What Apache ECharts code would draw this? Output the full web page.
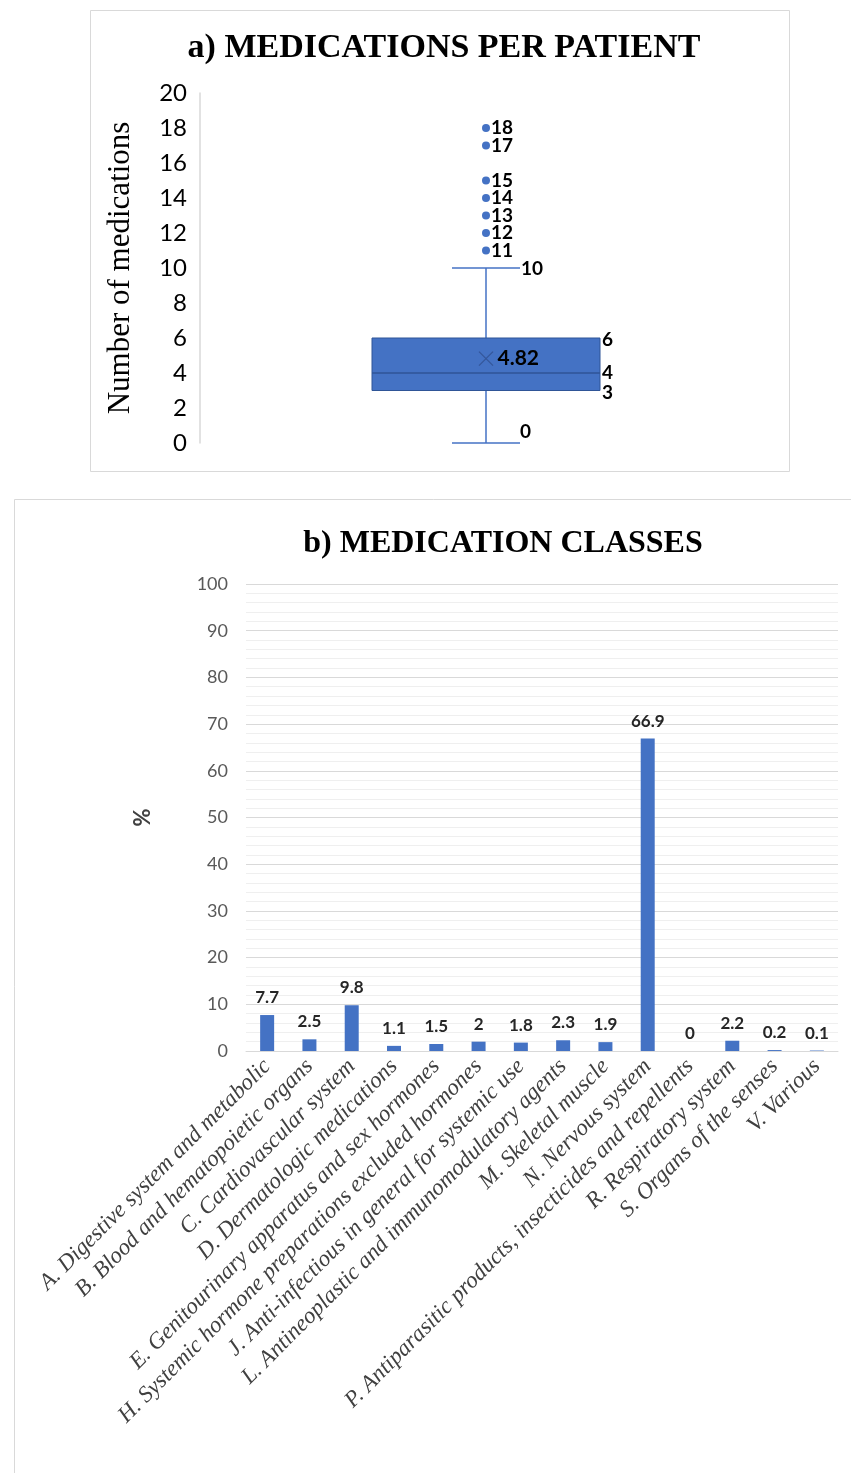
<!DOCTYPE html>
<html>
<head>
<meta charset="utf-8">
<script src="https://cdn.jsdelivr.net/npm/echarts@6/dist/echarts.min.js"></script>
<style>html,body{margin:0;padding:0;background:#fff;}#c{width:851px;height:1473px;}</style>
</head>
<body>
<div id="c"></div>
<script>
// ---- Data: a) medications per patient ----
const boxStats = [0, 3, 4, 6, 10];          // min, Q1, median, Q3, max (whisker)
const outliers = [11, 12, 13, 14, 15, 17, 18];
const meanValue = 4.82;
const yTicksTop = [0, 2, 4, 6, 8, 10, 12, 14, 16, 18, 20];

// ---- Data: b) medication classes ----
const classes = [
  'A. Digestive system and metabolic',
  'B. Blood and hematopoietic organs',
  'C. Cardiovascular system',
  'D. Dermatologic medications',
  'E. Genitourinary apparatus and sex hormones',
  'H. Systemic hormone preparations excluded hormones',
  'J. Anti-infectious in general for systemic use',
  'L. Antineoplastic and immunomodulatory agents',
  'M. Skeletal muscle',
  'N. Nervous system',
  'P. Antiparasitic products, insecticides and repellents',
  'R. Respiratory system',
  'S. Organs of the senses',
  'V. Various'
];
const classPct = [7.7, 2.5, 9.8, 1.1, 1.5, 2, 1.8, 2.3, 1.9, 66.9, 0, 2.2, 0.2, 0.1];

const BLUE = '#4472C4';
const DARK = '#2F5597';
const SANS = 'Lato, "Open Sans", sans-serif';
const SERIF = '"Liberation Serif", "DejaVu Serif", serif';

const chart = echarts.init(document.getElementById('c'), null, {renderer: 'canvas'});

function renderBox(params, api) {
  const x = 0;
  const vMin = api.value(1), q1 = api.value(2), med = api.value(3), q3 = api.value(4), vMax = api.value(5);
  const pMin = api.coord([x, vMin]), pQ1 = api.coord([x, q1]), pMed = api.coord([x, med]);
  const pQ3 = api.coord([x, q3]), pMax = api.coord([x, vMax]);
  const cx = pMin[0];
  const hw = 114, cw = 34;
  const lineStyle = {stroke: BLUE, lineWidth: 1.5};
  const lab = (txt, tx, ty, size) => ({
    type: 'text',
    style: {text: txt, x: tx, y: ty, fill: '#000', font: 'bold ' + size + 'px ' + SANS, textVerticalAlign: 'middle', textAlign: 'left'}
  });
  return {
    type: 'group',
    children: [
      {type: 'line', shape: {x1: cx, y1: pMin[1], x2: cx, y2: pQ1[1]}, style: lineStyle},
      {type: 'line', shape: {x1: cx, y1: pQ3[1], x2: cx, y2: pMax[1]}, style: lineStyle},
      {type: 'line', shape: {x1: cx - cw, y1: pMin[1], x2: cx + cw, y2: pMin[1]}, style: lineStyle},
      {type: 'line', shape: {x1: cx - cw, y1: pMax[1], x2: cx + cw, y2: pMax[1]}, style: lineStyle},
      {type: 'rect', shape: {x: cx - hw, y: pQ3[1], width: 2 * hw, height: pQ1[1] - pQ3[1]},
        style: {fill: BLUE, stroke: DARK, lineWidth: 1}},
      {type: 'line', shape: {x1: cx - hw, y1: pMed[1], x2: cx + hw, y2: pMed[1]}, style: {stroke: DARK, lineWidth: 1.5}},
      lab(String(vMax), cx + cw + 1, pMax[1] + 1, 19),
      lab(String(vMin), cx + cw, pMin[1] - 11, 19),
      lab(String(q3), cx + hw + 2, pQ3[1] + 2, 19),
      lab(String(med), cx + hw + 2, pMed[1], 19),
      lab(String(q1), cx + hw + 2, pQ1[1] + 2, 19)
    ]
  };
}

const option = {
  animation: false,
  backgroundColor: '#fff',
  graphic: [
    {type: 'rect', shape: {x: 90.5, y: 10.5, width: 699, height: 461}, style: {fill: 'none', stroke: '#d9d9d9', lineWidth: 1}, silent: true},
    {type: 'rect', shape: {x: 14.5, y: 499.5, width: 860, height: 1000}, style: {fill: 'none', stroke: '#d9d9d9', lineWidth: 1}, silent: true}
  ],
  title: [
    {text: 'a) MEDICATIONS PER PATIENT', left: 439, top: 26, textAlign: 'center',
      textStyle: {fontFamily: SERIF, fontWeight: 'bold', fontSize: 34, color: '#000'}},
    {text: 'b) MEDICATION CLASSES', left: 498, top: 523, textAlign: 'center',
      textStyle: {fontFamily: SERIF, fontWeight: 'bold', fontSize: 32, color: '#000'}}
  ],
  grid: [
    {left: 200, top: 93, width: 572, height: 350},
    {left: 246, top: 584, width: 592, height: 467}
  ],
  xAxis: [
    {gridIndex: 0, type: 'category', data: ['Medications'], show: false},
    {gridIndex: 1, type: 'category', data: classes,
      axisLine: {lineStyle: {color: '#d9d9d9'}}, axisTick: {show: false},
      axisLabel: {interval: 0, rotate: 45, fontFamily: SERIF, fontStyle: 'italic', fontSize: 23, color: '#404040', margin: 12}}
  ],
  yAxis: [
    {gridIndex: 0, type: 'value', min: yTicksTop[0], max: yTicksTop[yTicksTop.length - 1], interval: 2,
      axisLine: {show: true, lineStyle: {color: '#d9d9d9', width: 1.5}}, axisTick: {show: false}, splitLine: {show: false},
      axisLabel: {fontFamily: SANS, fontSize: 24, color: '#000', margin: 13},
      name: 'Number of medications', nameLocation: 'middle', nameGap: 64,
      nameTextStyle: {fontFamily: SERIF, fontSize: 31, color: '#000'}},
    {gridIndex: 1, type: 'value', min: 0, max: 100, interval: 10,
      axisLine: {show: false}, axisTick: {show: false},
      splitLine: {show: true, lineStyle: {color: '#d9d9d9', width: 1}},
      minorTick: {show: false, splitNumber: 5},
      minorSplitLine: {show: true, lineStyle: {color: '#efefef', width: 1}},
      axisLabel: {fontFamily: SANS, fontSize: 18, color: '#595959', margin: 18},
      name: '%', nameLocation: 'middle', nameGap: 92,
      nameTextStyle: {fontFamily: SANS, fontSize: 22, fontWeight: 'bold', color: '#404040'}}
  ],
  series: [
    {type: 'custom', xAxisIndex: 0, yAxisIndex: 0, renderItem: renderBox,
      data: [[0].concat(boxStats)], encode: {x: 0, y: [1, 2, 3, 4, 5]}, z: 2},
    {type: 'scatter', xAxisIndex: 0, yAxisIndex: 0, symbol: 'circle', symbolSize: 8,
      itemStyle: {color: BLUE, opacity: 1}, data: outliers.map(v => [0, v]), z: 3,
      label: {show: true, position: 'right', distance: 1, formatter: p => String(p.value[1]),
        fontFamily: SANS, fontWeight: 'bold', fontSize: 19, color: '#000'}},
    {type: 'scatter', xAxisIndex: 0, yAxisIndex: 0,
      symbol: 'path://M0,0 L10,10 M10,0 L0,10', symbolSize: 14,
      itemStyle: {color: 'none', borderColor: '#2F4F8F', borderWidth: 1.2, opacity: 0.8},
      data: [[0, meanValue]], z: 4,
      label: {show: true, position: 'right', distance: 2, formatter: p => String(p.value[1]),
        fontFamily: SANS, fontWeight: 'bold', fontSize: 21, color: '#000', opacity: 1}},
    {type: 'bar', xAxisIndex: 1, yAxisIndex: 1, data: classPct, barWidth: 14,
      itemStyle: {color: BLUE},
      label: {show: true, position: 'top', distance: 9, fontFamily: SANS, fontWeight: 'bold', fontSize: 17, color: '#262626'}}
  ]
};
chart.setOption(option);
</script>
</body>
</html>
